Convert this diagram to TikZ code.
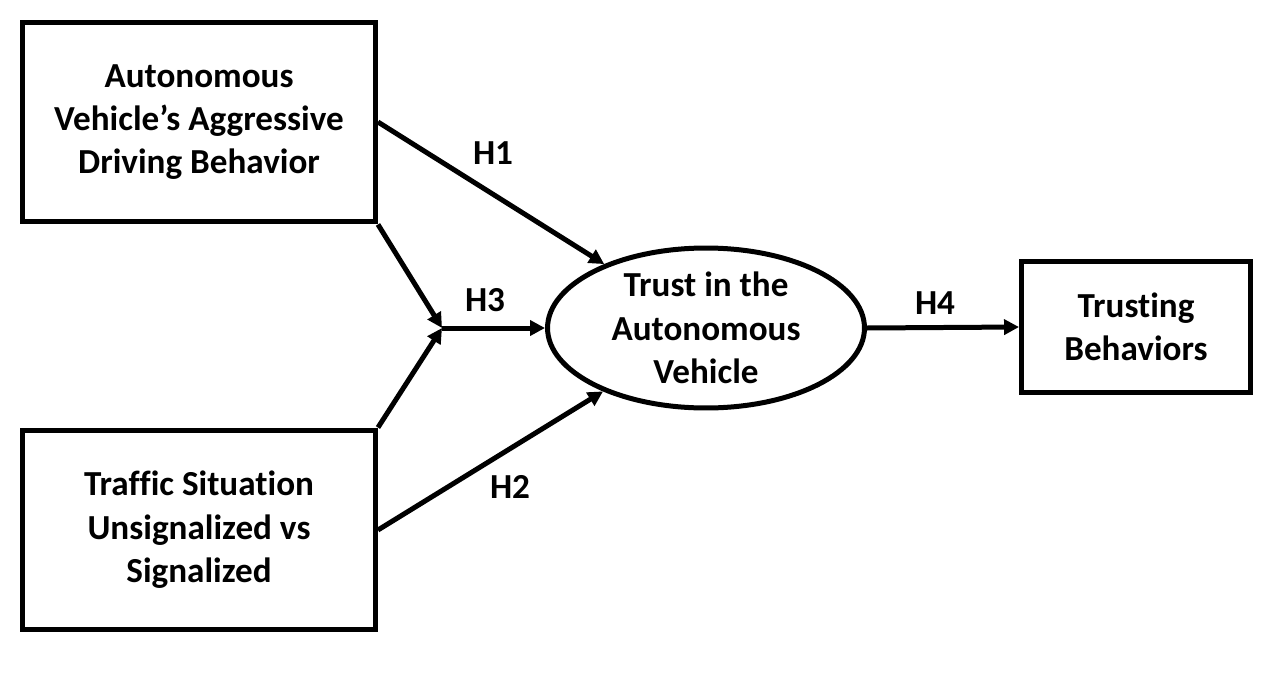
\documentclass[tikz,border=0pt]{standalone}
\usepackage{fontspec}
\setmainfont[Ligatures=NoCommon]{Carlito}
\usetikzlibrary{arrows.meta,shapes.geometric}
\begin{document}
\begin{tikzpicture}[x=0.02cm,y=-0.02cm,
  every node/.style={font=\fontsize{20}{24.7}\selectfont\bfseries},
  boxnode/.style={draw,line width=0.1cm,align=center,inner sep=0pt},
  conn/.style={line width=0.1cm,-{Triangle[length=0.3cm,width=0.3cm]}},
  hlabel/.style={inner sep=0pt}]
\useasboundingbox (0,0) rectangle (1277,679);
\node[boxnode,minimum width=7.06cm,minimum height=4.0cm] (b1) at (199,122)
  {Autonomous\\Vehicle’s Aggressive\\Driving Behavior};
\node[boxnode,minimum width=7.06cm,minimum height=4.0cm] (b2) at (199,530)
  {Traffic Situation\\Unsignalized vs\\Signalized};
\node[draw,ellipse,line width=0.1cm,minimum width=6.34cm,minimum height=3.2cm,inner sep=0pt] (tr) at (706,328) {};
\node[align=center,inner sep=0pt] (trt) at (tr.center) {Trust in the\\Autonomous\\Vehicle};
\node[boxnode,minimum width=4.58cm,minimum height=2.64cm] (b3) at (1136,327)
  {Trusting\\Behaviors};
\coordinate (j) at (442,328);
\draw[conn] (b1.east) -- (tr);
\draw[conn] (b2.east) -- (tr);
\draw[conn] (b1.south east) -- (j);
\draw[conn] (b2.north east) -- (j);
\draw[conn] (j) -- (tr.west);
\draw[conn] (tr.east) -- (b3.west);
\node[hlabel] (h1) at (493,153) {H1};
\node[hlabel] (h3) at (485,300) {H3};
\node[hlabel] (h2) at (510,487) {H2};
\node[hlabel] (h4) at (935,303) {H4};
\end{tikzpicture}
\end{document}
